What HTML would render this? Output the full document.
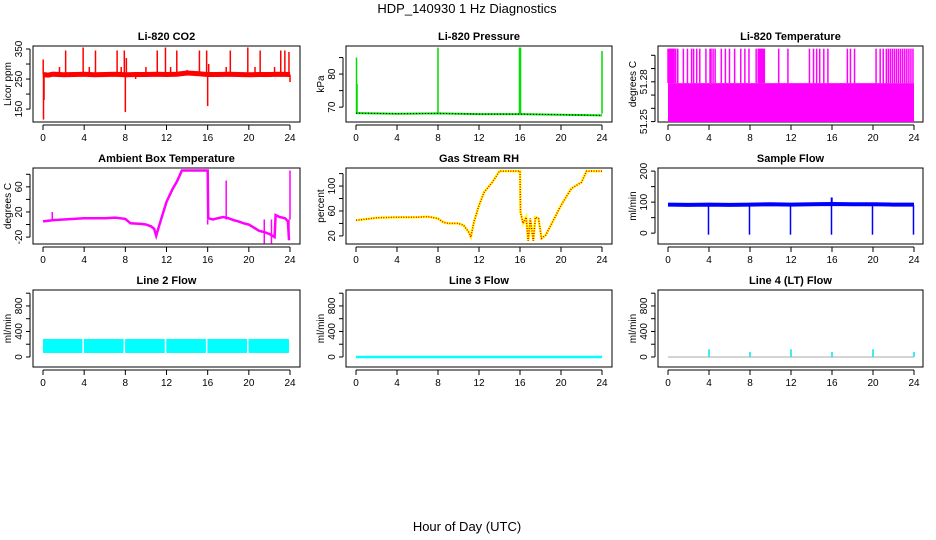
<!DOCTYPE html>
<html><head><meta charset="utf-8"><style>
html,body{margin:0;padding:0;background:#fff;}
svg{display:block;font-family:"Liberation Sans",sans-serif;}
</style></head><body>
<svg id="chart" width="936" height="540" viewBox="0 0 936 540" xmlns="http://www.w3.org/2000/svg">
<text x="467" y="13" text-anchor="middle" font-size="13">HDP_140930  1 Hz Diagnostics</text>
<text x="467" y="531" text-anchor="middle" font-size="13">Hour of Day (UTC)</text>
</svg>
<script>
// ---- data ----
const xTicks = [0,4,8,12,16,20,24];
// CO2
const co2Hours = [0,0.5,1,2,3,4,5,6,7,8,9,10,11,12,13,14,15,16,17,18,19,20,21,22,23,24];
const co2Values = [265,263,266,264,265,266,264,265,266,264,265,265,266,265,266,270,268,265,265,266,265,264,265,265,266,265];
const co2SpikeHours = [0.02,0.05,0.1,1.6,2.2,3.9,4.5,5.1,7.2,7.6,7.9,8.0,8.1,9.0,10.0,11.1,11.9,12.4,13.0,14.0,15.2,15.9,16.0,16.1,17.8,18.2,19.9,20.6,21.1,22.5,23.1,23.5,23.9,24.0];
const co2SpikeValues = [315,115,180,290,345,355,290,345,345,290,345,140,320,250,290,345,355,290,345,280,345,345,160,300,290,345,355,290,345,290,345,345,340,240];
// Pressure
const presHours = [0,4,8,12,16,20,24];
const presValues = [68.2,68.0,68.1,67.9,67.9,67.7,67.5];
const presSpikeHours = [0.05,0.1,8.0,15.95,16.0,16.05,24.0];
const presSpikeValues = [85,77,88,88,88,88,87];
// Li-820 temperature
const ltBase = 51.279;
const ltHighValue = 51.305;
const ltSpikeHours = [0.0,0.1,0.2,0.3,0.4,0.5,0.6,0.75,0.95,1.5,1.9,2.3,2.5,2.8,3.1,3.7,4.1,4.2,4.4,4.6,5.2,5.6,6.0,6.5,7.1,7.5,7.9,8.6,8.8,8.9,9.0,9.1,9.2,9.3,9.4,10.8,11.7,13.8,14.2,14.5,14.8,15.2,15.6,17.5,17.8,18.2,20.3,20.7,21.0,21.3,21.5,21.7,21.9,22.1,22.3,22.5,22.7,22.9,23.1,23.3,23.5,23.7,23.9];
// Ambient box temperature
const ambHours = [0,1,2,4,6,7,8,8.5,9.5,10,10.5,10.8,11.0,11.3,12,12.6,13,13.5,14,15,16,16.05,16.5,17,17.5,18,18.5,19,19.5,20,20.5,21,21.5,22,22.5,22.6,23,23.5,23.8,23.9];
const ambValues = [5,7,8,10,10,11,9,2,1,0,-3,-7,-18,-1,36,57,68,86,86,86,86,10,8,10,12,10,7,5,2,0,-5,-10,-12,-15,-20,15,12,10,5,-25];
const ambSpikeHours = [0.9,16.0,17.8,21.5,22.2,23.9,24.0];
const ambSpikeValues = [20,0,70,-30,-30,-25,86];
// Gas stream RH
const rhHours = [0,1,2,4,6,7,8,8.5,9,10,10.5,11,11.2,11.5,12,12.5,13.3,14,15,16,16.05,16.3,16.6,16.8,17.0,17.3,17.5,17.8,18.1,18.5,19,20,21,22,22.5,23,24];
const rhValues = [45,47,49,50,50,51,48,42,40,40,37,26,18,42,69,90,106,124,124,124,58,40,50,12,48,12,50,48,16,21,37,69,96,106,124,124,124];
// Sample flow
const sfHours = [0,2,4,6,8,10,12,14,16,18,20,22,24];
const sfValues = [92,91,92,91,92,93,92,93,94,93,93,92,92];
const sfDipHours = [3.95,7.95,11.95,15.95,19.95,23.95];
const sfDipValues = [-5,-5,-5,-5,-5,-5];
const sfSpikeHours = [15.97];
const sfSpikeValues = [115];
// Line flows
const l2Top = 282, l2Bottom = 63;
const l2GapHours = [4,8,12,16,20];
const l3Value = 0;
const l4Hours = [4,8,12,16,20,24];
const l4Values = [120,80,120,80,120,80];

// ---- layout ----
const NS = "http://www.w3.org/2000/svg";
const svg = document.getElementById('chart');
const cols = [{l:33,r:300,x0:43,x1:290},{l:346,r:612,x0:356,x1:602},{l:658,r:923,x0:668,x1:914}];
const rows = [{t:46,b:122},{t:168,b:244},{t:290,b:367}];
function mk(tag, attrs, parent){const e=document.createElementNS(NS,tag);for(const k in attrs)e.setAttribute(k,attrs[k]);(parent||svg).appendChild(e);return e;}

function panel(ci, ri, name, title, ylab, ymin, ymax, yticks, ylabels){
  const c=cols[ci], r=rows[ri];
  const g=mk('g',{});
  
  
  const X = h => c.x0 + (c.x1-c.x0)*h/24;
  const Y = v => r.b - (r.b-r.t)*(v-ymin)/(ymax-ymin);
  const t=mk('text',{x:(c.l+c.r)/2,y:r.t-6,'text-anchor':'middle','font-size':11,'font-weight':'bold'},g);
  t.textContent=title;
  
  
  const box=mk('rect',{x:c.l,y:r.t,width:c.r-c.l,height:r.b-r.t,fill:'none',stroke:'#000','stroke-width':1},g);
  
  
  const xa=mk('g',{},g);
  
  
  mk('line',{x1:X(xTicks[0]),x2:X(xTicks[xTicks.length-1]),y1:r.b+3,y2:r.b+3,stroke:'#000'},xa);
  xTicks.forEach(h=>{
    mk('line',{x1:X(h),x2:X(h),y1:r.b+3,y2:r.b+8,stroke:'#000'},xa);
    const tl=mk('text',{x:X(h),y:r.b+19,'text-anchor':'middle','font-size':10},xa);
    tl.textContent=h;
  });
  const ya=mk('g',{},g);
  
  
  const ax=c.l-3;
  mk('line',{x1:ax,x2:ax,y1:Y(yticks[0]),y2:Y(yticks[yticks.length-1]),stroke:'#000'},ya);
  yticks.forEach(v=>mk('line',{x1:ax,x2:ax-4,y1:Y(v),y2:Y(v),stroke:'#000'},ya));
  ylabels.forEach(v=>{
    const tx=ax-8, ty=Y(v);
    const tl=mk('text',{x:tx,y:ty,'text-anchor':'middle','font-size':10,transform:`rotate(-90 ${tx} ${ty})`},ya);
    tl.textContent=v;
  });
  const yl=mk('text',{x:c.l-22,y:(r.t+r.b)/2,'text-anchor':'middle','font-size':10,transform:`rotate(-90 ${c.l-22} ${(r.t+r.b)/2})`},g);
  yl.textContent=ylab;
  
  
  const clipId='clip'+ci+ri;
  const cp=mk('clipPath',{id:clipId},g); mk('rect',{x:c.l,y:r.t,width:c.r-c.l,height:r.b-r.t},cp);
  const data=mk('g',{'clip-path':`url(#${clipId})`},g);
  
  
  return {X,Y,g:data};
}
function poly(p,hs,vs,col,w,extra){const pts=hs.map((h,i)=>p.X(h).toFixed(1)+','+p.Y(vs[i]).toFixed(1)).join(' ');const e=mk('polyline',Object.assign({points:pts,fill:'none',stroke:col,'stroke-width':w},extra||{}),p.g);return e;}
function spikes(p,hs,vs,base,col,w){hs.forEach((h,i)=>{const e=mk('line',{x1:p.X(h),x2:p.X(h),y1:p.Y(base),y2:p.Y(vs[i]),stroke:col,'stroke-width':w},p.g);});}

let p=panel(0,0,'co2','Li-820 CO2','Licor ppm',107,360,[150,200,250,300,350],[150,250,350]);
poly(p,co2Hours,co2Values,'#ff0000',5);
spikes(p,co2SpikeHours,co2SpikeValues,265,'#ff0000',1.5);

p=panel(1,0,'pressure','Li-820 Pressure','kPa',65.5,88.5,[70,75,80,85],[70,80]);
poly(p,presHours,presValues,'#00dd00',2);
spikes(p,presSpikeHours,presSpikeValues,68,'#00dd00',1.5);
poly(p,presHours,presValues,'#000',1,{'stroke-dasharray':'1 2'});

p=panel(2,0,'li820-temperature','Li-820 Temperature','degrees C',51.2497,51.307,[51.25,51.26,51.27,51.28,51.29,51.30],[51.25,51.28]);
{const e=mk('rect',{x:p.X(0),y:p.Y(ltBase),width:p.X(24)-p.X(0),height:p.Y(51.2497)-p.Y(ltBase),fill:'#ff00ff'},p.g);}
spikes(p,ltSpikeHours,ltSpikeHours.map(()=>ltHighValue),ltBase,'#ff00ff',1.5);

p=panel(0,1,'ambient-temperature','Ambient Box Temperature','degrees C',-31,90,[-20,0,20,40,60,80],[-20,20,60]);
poly(p,ambHours,ambValues,'#ff00ff',2.5);
spikes(p,ambSpikeHours,ambSpikeValues,8,'#ff00ff',1.5);

p=panel(1,1,'gas-stream-rh','Gas Stream RH','percent',7,129,[20,40,60,80,100,120],[20,60,100]);
poly(p,rhHours,rhValues,'#ffff00',2.5);
poly(p,rhHours,rhValues,'#ff0000',1.5,{'stroke-dasharray':'1 1.5'});

p=panel(2,1,'sample-flow','Sample Flow','ml/min',-35,210,[0,50,100,150,200],[0,100,200]);
poly(p,sfHours,sfValues,'#0000ff',4);
spikes(p,sfDipHours,sfDipValues,90,'#0000ff',1.5);
spikes(p,sfSpikeHours,sfSpikeValues,90,'#0000ff',2);

p=panel(0,2,'line-2-flow','Line 2 Flow','ml/min',-157,1050,[0,200,400,600,800,1000],[0,400,800]);
{const e=mk('rect',{x:p.X(0),y:p.Y(l2Top),width:p.X(23.9)-p.X(0),height:p.Y(l2Bottom)-p.Y(l2Top),fill:'#00ffff'},p.g);}
l2GapHours.forEach(h=>{const e=mk('line',{x1:p.X(h)-1,x2:p.X(h)-1,y1:p.Y(l2Top),y2:p.Y(l2Bottom)+3,stroke:'#fff','stroke-width':1.5},p.g);});

p=panel(1,2,'line-3-flow','Line 3 Flow','ml/min',-157,1050,[0,200,400,600,800,1000],[0,400,800]);
poly(p,[0,24],[l3Value,l3Value],'#00ffff',2.5);

p=panel(2,2,'line-4-flow','Line 4 (LT) Flow','ml/min',-157,1050,[0,200,400,600,800,1000],[0,400,800]);
poly(p,[0,24],[0,0],'#aaaaaa',1);
spikes(p,l4Hours,l4Values,0,'#00e5ee',1.5);
</script>
</body></html>
